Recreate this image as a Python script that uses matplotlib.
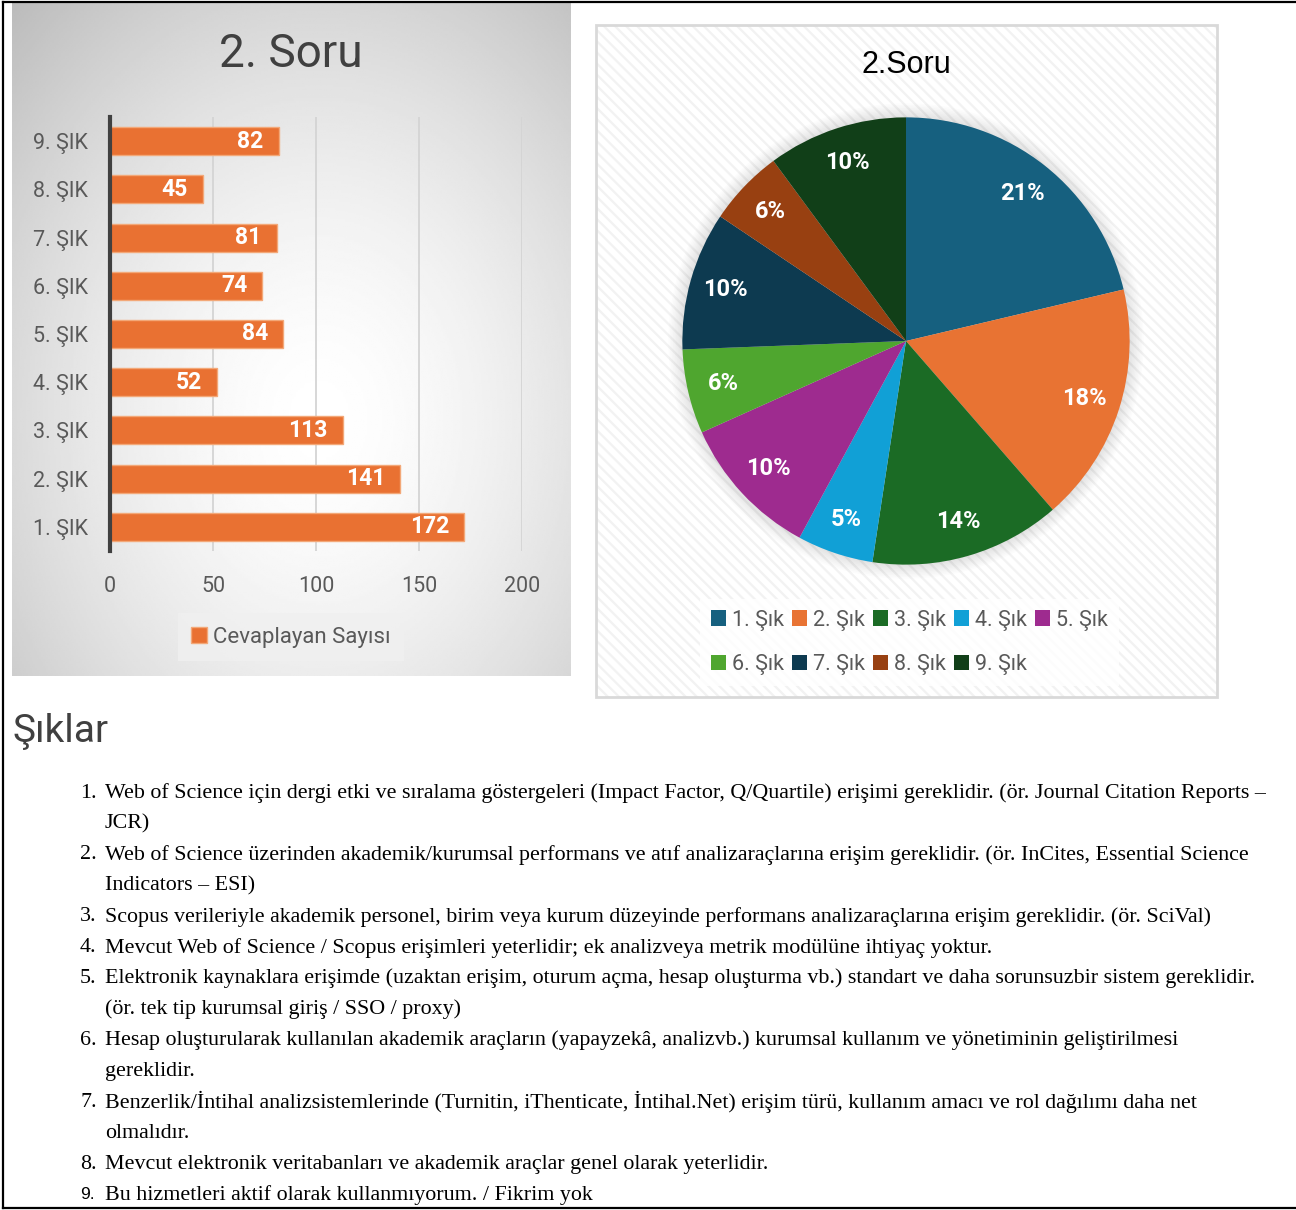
import numpy as np
import matplotlib.pyplot as plt
from matplotlib.patches import Rectangle, Circle
from matplotlib.lines import Line2D

plt.rcParams['font.family'] = ['Roboto', 'DejaVu Sans']
plt.rcParams['hatch.linewidth'] = 1.6

# bar chart data
categories = ['1. ŞIK', '2. ŞIK', '3. ŞIK', '4. ŞIK', '5. ŞIK',
              '6. ŞIK', '7. ŞIK', '8. ŞIK', '9. ŞIK']
counts = [172, 141, 113, 52, 84, 74, 81, 45, 82]
xticks = [0, 50, 100, 150, 200]

# pie chart data (shares)
pie_names = ['1. Şık', '2. Şık', '3. Şık', '4. Şık', '5. Şık',
             '6. Şık', '7. Şık', '8. Şık', '9. Şık']
pie_shares = [21.3, 17.3, 13.8, 5.5, 10.4, 6.1, 10.0, 5.5, 10.1]
pie_labels = ['21%', '18%', '14%', '5%', '10%', '6%', '10%', '6%', '10%']
pie_colors = ['#16607F', '#E87333', '#1B6B25', '#11A0D6', '#9E2B8F',
              '#4FA62F', '#0D3A50', '#984011', '#113F18']

# answer options text (as wrapped in the picture)
options = [
    ['Web of Science için dergi etki ve sıralama göstergeleri (Impact Factor, Q/Quartile) erişimi gereklidir. (ör. Journal Citation Reports –',
     'JCR)'],
    ['Web of Science üzerinden akademik/kurumsal performans ve atıf analizaraçlarına erişim gereklidir. (ör. InCites, Essential Science',
     'Indicators – ESI)'],
    ['Scopus verileriyle akademik personel, birim veya kurum düzeyinde performans analizaraçlarına erişim gereklidir. (ör. SciVal)'],
    ['Mevcut Web of Science / Scopus erişimleri yeterlidir; ek analizveya metrik modülüne ihtiyaç yoktur.'],
    ['Elektronik kaynaklara erişimde (uzaktan erişim, oturum açma, hesap oluşturma vb.) standart ve daha sorunsuzbir sistem gereklidir.',
     '(ör. tek tip kurumsal giriş / SSO / proxy)'],
    ['Hesap oluşturularak kullanılan akademik araçların (yapayzekâ, analizvb.) kurumsal kullanım ve yönetiminin geliştirilmesi',
     'gereklidir.'],
    ['Benzerlik/İntihal analizsistemlerinde (Turnitin, iThenticate, İntihal.Net) erişim türü, kullanım amacı ve rol dağılımı daha net',
     'olmalıdır.'],
    ['Mevcut elektronik veritabanları ve akademik araçlar genel olarak yeterlidir.'],
    ['Bu hizmetleri aktif olarak kullanmıyorum. / Fikrim yok'],
]

W, H = 1296, 1210
fig = plt.figure(figsize=(W / 100, H / 100), dpi=100)


def box(x0, y0, x1, y1):
    return [x0 / W, 1 - y1 / H, (x1 - x0) / W, (y1 - y0) / H]


# ---- left panel: gray radial gradient background
bg = fig.add_axes(box(12, 3, 571, 676))
yy, xx = np.mgrid[0:1:300j, 0:1:300j]
r = np.sqrt(((xx - 0.55) / 0.75) ** 2 + ((yy - 0.62) / 0.8) ** 2)
grad = 1 - 0.24 * np.clip(r, 0, 1.3) ** 1.6
bg.imshow(grad, cmap='gray', vmin=0, vmax=1, extent=[0, 1, 0, 1],
          aspect='auto', origin='upper')
bg.axis('off')

ax = fig.add_axes(box(110, 117, 522, 551))
ax.patch.set_alpha(0)
y = np.arange(len(categories))
bars = ax.barh(y, counts, height=0.58, color='#E97132', edgecolor='#F3A878',
               linewidth=1, zorder=3, label='Cevaplayan Sayısı')
ax.set_xlim(0, 200)
ax.set_ylim(-0.5, 8.5)
ax.set_xticks(xticks)
ax.set_yticks(y, categories)
ax.grid(axis='x', color='#d4d4d4', lw=1.3, zorder=0)
for s in ['top', 'right', 'bottom']:
    ax.spines[s].set_visible(False)
ax.spines['left'].set_color('#404040')
ax.spines['left'].set_linewidth(3)
ax.spines['left'].set_zorder(4)
ax.tick_params(length=0, labelsize=15.5, colors='#595959')
ax.tick_params(axis='x', pad=18)
ax.tick_params(axis='y', pad=16)

labels = ax.bar_label(bars, padding=-11, color='white', fontsize=16.5,
                      fontweight='bold')
for t in labels:
    t.set_ha('right')

fig.text(291 / W, 1 - 54 / H, '2. Soru', fontsize=33, color='#404040',
         ha='center', va='center')
fig.legend(handles=[bars], labels=['Cevaplayan Sayısı'], loc='center',
           bbox_to_anchor=(291 / W, 1 - 637 / H), frameon=True,
           facecolor='#f0f0f0', edgecolor='none', fancybox=False,
           framealpha=0.8, fontsize=16, labelcolor='#595959',
           handlelength=0.7, handleheight=0.7, handletextpad=0.3,
           borderpad=0.6)

# ---- right panel: hatched frame with the pie
fig.add_artist(Rectangle((596 / W, 1 - 697 / H), (1217 - 596) / W, (697 - 25) / H,
                         transform=fig.transFigure, facecolor='white',
                         edgecolor='#f2f2f2', hatch='\\\\\\', lw=0,
                         zorder=0))
fig.add_artist(Rectangle((596 / W, 1 - 697 / H), (1217 - 596) / W, (697 - 25) / H,
                         transform=fig.transFigure, fill=False,
                         edgecolor='#d9d9d9', lw=2, zorder=0))

fig.text(906 / W, 1 - 65 / H, '2.Soru', fontsize=22, color='black',
         family=['Liberation Sans', 'DejaVu Sans'], ha='center', va='center')

pax = fig.add_axes(box(906 - 224, 341 - 224, 906 + 224, 341 + 224))
for k in range(10):
    pax.add_patch(Circle((0, 0), 1 + 0.007 * k, color='black', alpha=0.012, lw=0))
wedges, texts = pax.pie(pie_shares, colors=pie_colors, startangle=90,
                        counterclock=False, labels=pie_labels, labeldistance=0.84,
                        textprops=dict(color='white', fontsize=17, fontweight='bold'),
                        wedgeprops=dict(lw=0))
for t in texts:
    t.set_ha('center')
    t.set_va('center')
pax.set_xlim(-1.1, 1.1)
pax.set_ylim(-1.1, 1.1)
pax.axis('off')
pax.set_position(box(906 - 246, 341 - 246, 906 + 246, 341 + 246))

order = [0, 5, 1, 6, 2, 7, 3, 8, 4]
fig.legend(handles=[wedges[i] for i in order], labels=[pie_names[i] for i in order],
           ncol=5, loc='upper left', bbox_to_anchor=(689 / W, 1 - 588 / H),
           frameon=True, facecolor='white', framealpha=0.8, edgecolor='none',
           fancybox=False, fontsize=15.5, labelcolor='#595959',
           handlelength=0.7, handleheight=0.7, handletextpad=0.3,
           columnspacing=0.35, labelspacing=1.1, borderpad=0.5)

# ---- options list
fig.text(12 / W, 1 - 732 / H, 'Şıklar', fontsize=28, color='#404040', va='center')

serif = ['Liberation Serif', 'DejaVu Serif']
fs = 15.8
line = 0
for i, item in enumerate(options):
    yl = 1 - (793 + line * 30.92) / H
    if i == 8:
        fig.text(80 / W, yl, f'{i + 1}.', fontsize=12.5, family=['Liberation Sans'],
                 va='center', color='black')
    else:
        fig.text(80 / W, yl, f'{i + 1}.', fontsize=fs, family=serif,
                 va='center', color='black')
    for txt in item:
        yl = 1 - (793 + line * 30.92) / H
        fig.text(105 / W, yl, txt, fontsize=fs, family=serif, va='center',
                 color='black')
        line += 1

# ---- page border
fig.add_artist(Line2D([3 / W, 1], [1 - 2 / H, 1 - 2 / H], color='black', lw=1.6))
fig.add_artist(Line2D([3 / W, 3 / W], [1 - 2 / H, 1 - 1208 / H], color='black', lw=1.6))
fig.add_artist(Line2D([3 / W, 1], [1 - 1208 / H, 1 - 1208 / H], color='black', lw=1.6))

fig.savefig('out.png', dpi=100)
